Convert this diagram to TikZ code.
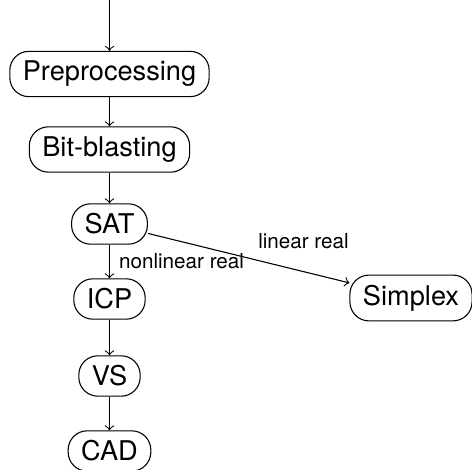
\documentclass[tikz,border=0pt]{standalone}
\usepackage{fontspec}
\setmainfont{TeX Gyre Heros}
\usetikzlibrary{positioning}
\usetikzlibrary{arrows}

\begin{document}
\begin{tikzpicture}[x=0.368pt,y=0.368pt,
  stage/.style={rectangle,draw=black,rounded corners=7pt,inner xsep=4.8pt,inner ysep=3.6pt},
  branch/.style={font=\fontsize{7.6pt}{9pt}\selectfont}]
\useasboundingbox (0,0) rectangle (472,-470);

\coordinate (input) at (109.5,0);
\node at (109.5,-74)  [stage] (prep)    {Preprocessing};
\node at (109.5,-149.5) [stage] (bitblast) {Bit-blasting};
\node at (109.5,-224) [stage] (sat)     {SAT};
\node at (109.5,-299) [stage] (icp)     {ICP};
\node at (411,-298)   [stage] (simplex) {Simplex};
\node at (109.5,-376) [stage] (vs)      {VS};
\node at (109.5,-451) [stage] (cad)     {CAD};

\draw[->] (input) -- (prep);
\draw[->] (prep) -- (bitblast);
\draw[->] (bitblast) -- (sat);
\draw[->] (sat) -- node[branch,right] {nonlinear real} (icp);
\draw[->] (sat) -- node[branch,above right] {linear real} (simplex);
\draw[->] (icp) -- (vs);
\draw[->] (vs) -- (cad);
\end{tikzpicture}
\end{document}
